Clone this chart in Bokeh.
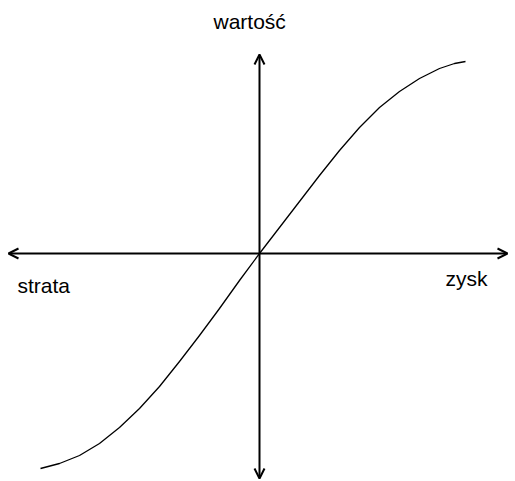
from bokeh.plotting import figure
from bokeh.models import Range1d, Arrow, OpenHead
from bokeh.core.properties import value
from bokeh.embed import file_html
from bokeh.resources import INLINE

# Value function: points of the S-shaped curve (origin at the axes crossing)
loss_x = [-219, -200, -180, -160, -140, -120, -100, -80, -60, -40, -20, 0]
loss_v = [-215, -210, -202, -190, -174, -155, -133, -108, -82, -55, -27, 0]
gain_x = [0, 20, 40, 60, 80, 100, 120, 140, 160, 180, 195, 206]
gain_v = [0, 26, 52, 78, 103, 126, 146, 162, 175, 185, 190, 192]

# Axis extents
x_axis_span = [-251, 248]
y_axis_span = [-225, 199]

# Axis captions: text, x, y
captions = ["wartość", "strata", "zysk"]
caption_x = [-46, -242, 186]
caption_y = [232, -32, -25]

p = figure(width=515, height=481, output_backend="svg", toolbar_location=None,
           x_range=Range1d(-259, 256), y_range=Range1d(-228, 253),
           min_border=0, outline_line_color=None)
p.axis.visible = False
p.grid.visible = False

# Axes with open arrow heads on both ends
p.add_layout(Arrow(x_start=x_axis_span[0], y_start=0, x_end=x_axis_span[1], y_end=0,
                   line_width=2, line_color="black",
                   start=OpenHead(size=10, line_width=2),
                   end=OpenHead(size=10, line_width=2)))
p.add_layout(Arrow(x_start=0, y_start=y_axis_span[0], x_end=0, y_end=y_axis_span[1],
                   line_width=2, line_color="black",
                   start=OpenHead(size=10, line_width=2),
                   end=OpenHead(size=10, line_width=2)))

curve_x = loss_x + gain_x[1:]
curve_v = loss_v + gain_v[1:]
p.line(curve_x, curve_v, line_color="black", line_width=1.3, line_join="round")

p.text(caption_x, caption_y, text=captions, text_font=value("Liberation Sans"),
       text_font_size="21px", text_color="black", text_baseline="alphabetic",
       text_align="left")

open("out.html", "w").write(file_html(p, INLINE))
